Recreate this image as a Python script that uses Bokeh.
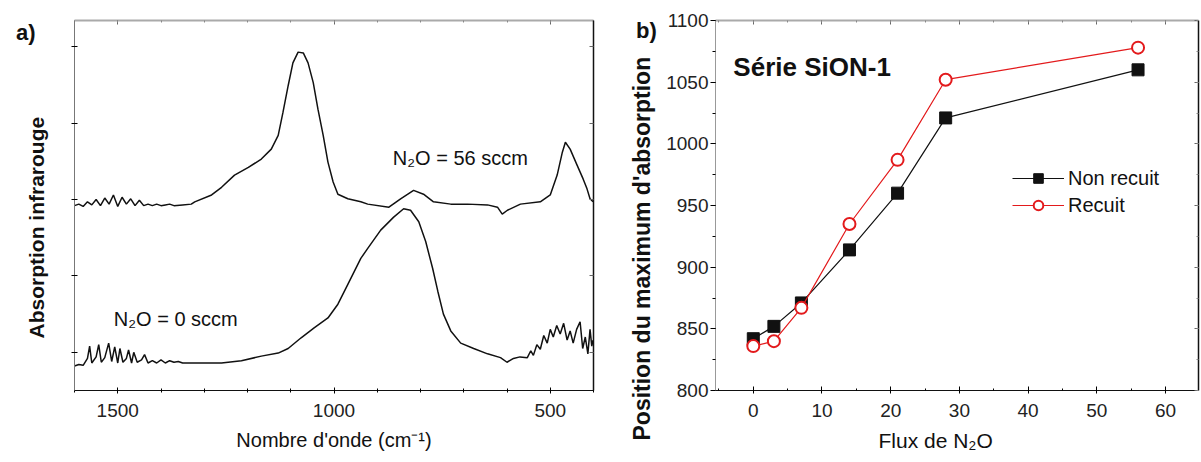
from bokeh.plotting import figure
from bokeh.layouts import row
from bokeh.models import (Range1d, LinearAxis, Label, FixedTicker, SingleIntervalTicker,
                          CustomLabelingPolicy, Title, Div)
from bokeh.embed import file_html
from bokeh.resources import INLINE

# ---------------- Panel a: IR spectra (arbitrary units) ----------------
wn_56 = [1600, 1590, 1580, 1570, 1560, 1550, 1540, 1530, 1520, 1510, 1500, 1490, 1480, 1470,
         1460, 1450, 1440, 1430, 1420, 1410, 1400, 1390, 1380, 1370, 1350, 1330, 1322, 1283,
         1260, 1230, 1198, 1168, 1145, 1129, 1118, 1106, 1095, 1083, 1071, 1060, 1048, 1037,
         1025, 1014, 1002, 991, 968, 938, 922, 873, 846, 816, 793, 770, 730, 691, 645, 622,
         611, 599, 569, 523, 500, 484, 472, 465, 454, 438, 424, 415, 408, 401]
abs_56 = [2.42, 2.44, 2.41, 2.47, 2.43, 2.50, 2.42, 2.52, 2.44, 2.56, 2.41, 2.53, 2.44, 2.51,
          2.42, 2.49, 2.42, 2.44, 2.42, 2.44, 2.42, 2.43, 2.44, 2.42, 2.43, 2.44, 2.47, 2.56,
          2.66, 2.82, 2.92, 3.03, 3.16, 3.34, 3.64, 3.99, 4.29, 4.43, 4.42, 4.29, 4.03, 3.68,
          3.34, 2.99, 2.73, 2.57, 2.51, 2.47, 2.44, 2.40, 2.51, 2.62, 2.57, 2.47, 2.44, 2.44,
          2.43, 2.40, 2.31, 2.36, 2.44, 2.47, 2.56, 2.82, 3.12, 3.25, 3.16, 2.95, 2.77, 2.64,
          2.51, 2.47]

wn_0 = [1600, 1590, 1580, 1570, 1565, 1560, 1550, 1544, 1538, 1530, 1521, 1514, 1507, 1500,
        1495, 1488, 1480, 1475, 1468, 1463, 1455, 1445, 1438, 1430, 1420, 1410, 1400, 1390,
        1380, 1370, 1360, 1350, 1306, 1260, 1214, 1168, 1129, 1106, 1076, 1046, 1014, 991,
        968, 938, 922, 892, 862, 839, 823, 804, 788, 772, 760, 747, 730, 707, 677, 645, 615,
        600, 585, 570, 553, 545, 539, 531, 523, 515, 507, 500, 493, 485, 477, 469, 461, 454,
        447, 439, 431, 425, 419, 413, 408, 404, 401]
abs_0 = [0.32, 0.34, 0.33, 0.42, 0.58, 0.36, 0.44, 0.60, 0.37, 0.43, 0.62, 0.38, 0.57, 0.36,
         0.55, 0.37, 0.42, 0.53, 0.36, 0.50, 0.37, 0.40, 0.47, 0.36, 0.39, 0.36, 0.40, 0.36,
         0.39, 0.37, 0.38, 0.36, 0.36, 0.36, 0.39, 0.45, 0.49, 0.55, 0.69, 0.82, 0.95, 1.13,
         1.39, 1.73, 1.86, 2.10, 2.27, 2.38, 2.36, 2.21, 1.95, 1.60, 1.30, 1.00, 0.78, 0.62,
         0.55, 0.48, 0.43, 0.37, 0.42, 0.44, 0.43, 0.52, 0.46, 0.60, 0.54, 0.72, 0.62, 0.80,
         0.70, 0.85, 0.74, 0.88, 0.66, 0.78, 0.62, 0.80, 0.90, 0.55, 0.70, 0.48, 0.80, 0.58,
         0.66]

# ---------------- Panel b: peak position vs N2O flux ----------------
flux = [0, 3, 7, 14, 21, 28, 56]
pos_non_recuit = [842, 852, 871, 914, 960, 1021, 1060]
pos_recuit = [836, 840, 867, 935, 987, 1052, 1078]

FONT = "Liberation Sans"


def hide_labels():
    return CustomLabelingPolicy(code="for (const i of indices) indices.unset(i)")


def style_axis(ax, size="19px", color="#222222"):
    ax.major_label_text_font = FONT
    ax.major_label_text_font_size = size
    ax.major_label_text_color = color


def mirror_axis(ticker, line_color, width):
    return LinearAxis(ticker=ticker, major_label_policy=hide_labels(),
                      major_label_text_font_size="0px", major_label_standoff=0,
                      major_tick_out=0, major_tick_in=4, minor_tick_out=0, minor_tick_in=2,
                      axis_line_color=line_color, axis_line_width=width,
                      major_tick_line_color="#666666", minor_tick_line_color="#888888")


def axis_title(text, size, bold, align, offset, valign, standoff):
    return Title(text=text, align=align, offset=offset, vertical_align=valign,
                 standoff=standoff, text_font=FONT, text_font_size=size,
                 text_font_style="bold" if bold else "normal", text_color="#111111")


# ---------- Figure a ----------
pa = figure(width=600, height=462, x_range=Range1d(1600, 400), y_range=Range1d(0, 4.844),
            output_backend="svg", toolbar_location=None,
            min_border_left=73, min_border_right=7, min_border_top=17, min_border_bottom=72)
pa.outline_line_color = None
pa.xgrid.visible = False
pa.ygrid.visible = False

pa.xaxis.ticker = SingleIntervalTicker(interval=500, num_minor_ticks=5)
pa.yaxis.ticker = FixedTicker(ticks=[0.5, 1.5, 2.5, 3.5, 4.5])
for ax in pa.xaxis:
    style_axis(ax)
    ax.major_tick_in = 3
    ax.major_tick_out = 3
    ax.minor_tick_in = 2
    ax.minor_tick_out = 2
    ax.major_label_standoff = 10
    ax.axis_line_color = "#111111"
for ax in pa.yaxis:
    style_axis(ax)
    ax.major_label_policy = hide_labels()
    ax.major_label_text_font_size = "0px"
    ax.major_label_standoff = 0
    ax.major_tick_in = 3
    ax.major_tick_out = 3
    ax.minor_tick_line_color = None
    ax.axis_line_color = "#777777"

pa.add_layout(mirror_axis(SingleIntervalTicker(interval=500, num_minor_ticks=5), "#aaaaaa", 2), "above")
pa.add_layout(mirror_axis(FixedTicker(ticks=[0.5, 1.5, 2.5, 3.5, 4.5]), "#111111", 1.5), "right")
pa.add_layout(axis_title("Absorption infrarouge", "21px", True, "left", 52, "middle", 46), "left")
pa.add_layout(axis_title("Nombre d'onde (cm⁻¹)", "20px", False, "center", 0, "bottom", 15), "below")

pa.line(wn_56, abs_56, line_color="#111111", line_width=1.5)
pa.line(wn_0, abs_0, line_color="#111111", line_width=1.5)

pa.add_layout(Label(x=864, y=3.05, text="N₂O = 56 sccm", text_font=FONT,
                    text_font_size="20px", text_baseline="middle", text_color="#111111"))
pa.add_layout(Label(x=1509, y=0.935, text="N₂O = 0 sccm", text_font=FONT,
                    text_font_size="20px", text_baseline="middle", text_color="#111111"))

# ---------- Figure b ----------
pb = figure(width=601, height=462, x_range=Range1d(-5.5, 64.8), y_range=Range1d(800, 1100),
            output_backend="svg", toolbar_location=None,
            min_border_left=115, min_border_right=3, min_border_top=20, min_border_bottom=72)
pb.outline_line_color = None
pb.xgrid.visible = False
pb.ygrid.visible = False

pb.xaxis.ticker = SingleIntervalTicker(interval=10, num_minor_ticks=2)
pb.yaxis.ticker = SingleIntervalTicker(interval=50, num_minor_ticks=2)
for ax in pb.xaxis:
    style_axis(ax)
    ax.major_tick_in = 4
    ax.major_tick_out = 3
    ax.minor_tick_in = 2
    ax.minor_tick_out = 0
    ax.major_label_standoff = 10
    ax.axis_line_color = "#111111"
for ax in pb.yaxis:
    style_axis(ax)
    ax.major_tick_in = 0
    ax.major_tick_out = 5
    ax.minor_tick_in = 0
    ax.minor_tick_out = 3
    ax.major_label_standoff = 2
    ax.axis_line_color = "#999999"

pb.add_layout(mirror_axis(SingleIntervalTicker(interval=10, num_minor_ticks=2), "#aaaaaa", 2), "above")
pb.add_layout(mirror_axis(SingleIntervalTicker(interval=50, num_minor_ticks=2), "#111111", 1.5), "right")
pb.add_layout(axis_title("Position du maximum d'absorption", "23px", True, "left", -50, "middle", 16), "left")
pb.add_layout(axis_title("Flux de N₂O", "21px", False, "left", 163, "bottom", 15), "below")

RED = "#e31a1c"
pb.line(flux, pos_non_recuit, line_color="#111111", line_width=1.2, legend_label="Non recuit")
pb.scatter(flux, pos_non_recuit, marker="square", size=12, fill_color="#111111",
           line_color="#111111", legend_label="Non recuit")
pb.line(flux, pos_recuit, line_color=RED, line_width=1.2, legend_label="Recuit")
pb.scatter(flux, pos_recuit, marker="circle", size=12, fill_color="white",
           line_color=RED, line_width=2, legend_label="Recuit")

lg = pb.legend[0]
lg.location = (297, 173)
lg.border_line_alpha = 0
lg.background_fill_alpha = 0
lg.padding = 0
lg.margin = 0
lg.spacing = 3
lg.glyph_width = 52
lg.glyph_height = 24
lg.label_height = 24
lg.label_standoff = 4
lg.label_text_font = FONT
lg.label_text_font_size = "20px"
lg.label_text_color = "#111111"

pb.add_layout(Label(x=-2.9, y=1062, text="Série SiON-1", text_font=FONT,
                    text_font_size="26px", text_font_style="bold", text_baseline="middle",
                    text_color="#111111"))


def panel_tag(text, left, top):
    return Div(text=text, styles={"position": "absolute", "left": f"{left}px", "top": f"{top}px",
                                  "font-family": FONT, "font-size": "22px", "font-weight": "bold",
                                  "color": "#111111", "line-height": "1", "z-index": "10"})


layout = row(pa, pb)
open("out.html", "w").write(file_html([layout, panel_tag("a)", 11, 17), panel_tag("b)", 631, 15)],
                                      INLINE))
